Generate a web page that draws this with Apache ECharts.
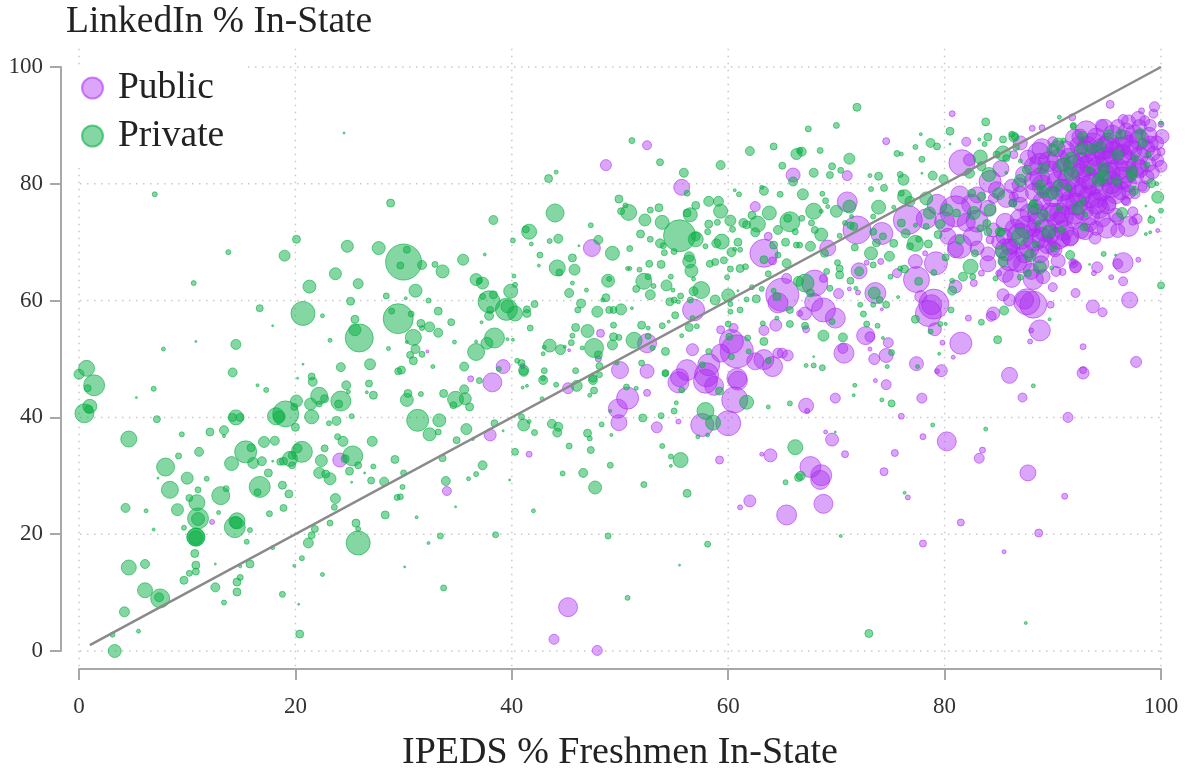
<!DOCTYPE html>
<html><head><meta charset="utf-8">
<style>html,body{margin:0;padding:0;background:#fff}#c{width:1188px;height:771px}</style>
<script src="https://cdn.jsdelivr.net/npm/echarts@6/dist/echarts.min.js"></script>
</head><body><div id="c"></div>
<script>
const xTicks=[0,20,40,60,80,100];
const yTicks=[0,20,40,60,80,100];
const diagonal=[[1,1],[100,100]];
const xTitle='IPEDS % Freshmen In-State';
const yTitle='LinkedIn % In-State';
// each point: [IPEDS %, LinkedIn %, school size]
const publicPoints=[
[12.3,22.1,5],[24.1,32.7,14],[32.2,51.3,3],[39.2,48.7,14],[41,48.8,5],[45.3,51.5,3],[48.2,54.4,8],[48,50,6],[50,48.1,17],[52.5,47.9,14],[52.5,52.7,19],[56.8,58.4,22],[48.7,83.2,11],[52.5,86.6,9],[55.7,79.4,16],[66,81.5,14],[62.5,76.1,10],[47.4,69,17],[63.7,71,8],[63.3,68.1,28],[64.1,66.8,8],[65,61,33],[65.4,63.8,10],[64.6,59.6,20],[66.6,57.8,6],[64.4,55.8,12],[63.3,54.9,10],[60.3,53,24],[60.8,51.3,33],[59.3,55,8],[60.5,55.3,9],[59.3,51,18],[56.7,51.6,12],[62.5,49.6,17],[63.3,49.9,20],[64.1,48.7,20],[64.6,51,10],[65,51,10],[65.5,50.6,11],[58.2,49,22],[56.2,48.1,21],[58,47.3,24],[60.8,46.7,20],[55.5,46.8,18],[41.6,33.7,6],
[38.2,46,19],[36.2,46.6,6],[45.2,45,11],[38,37,12],[34,27.4,9],[52.5,44.2,7],[50.7,43.3,22],[49.8,41.5,19],[49.9,39.1,16],[55.4,39.3,5],[53.4,38.3,11],[55.4,46,21],[57.9,46.2,24],[58.7,45.4,19],[60.9,46.3,19],[60.6,43,26],[60,39,25],[57.6,38.7,23],[63.9,33.5,13],[63.1,33.7,4],[59.2,32.7,8],[62,25.7,12],[61.1,24.6,5],[65.4,23.3,20],[45.2,7.5,19],[43.9,2,10],[47.9,0.1,10],
[74.6,45.6,10],[73.6,46.3,4],[69.9,43.3,10],[77.9,43.3,10],[76,40.2,6],[67.2,42,15],[67.3,41.1,5],[69,37.5,4],[69.6,36.2,13],[70.8,33.7,7],[75.4,33.9,7],[78,36.7,6],[80.2,35.9,19],[83.5,34.4,6],[83.2,33,10],[87.2,43.4,9],[86,47.2,16],[92.8,47.6,12],[92.8,48.1,7],[91.4,40,10],[87.7,30.5,16],[91.1,26.5,6],[74.4,30.7,8],[67.6,31.5,21],[68.6,30.1,21],[68.5,29.3,19],[68.8,25.2,19],[76.6,26.3,5],[81.5,22,7],[78,18.4,7],[88.7,20.2,8],[85.5,17,4],
[80.7,92,6],[74.6,87.3,7],[71,81.4,10],[82,87.2,9],[88.1,89.5,6],[89,89.6,6],[91.8,91.4,7],[95.3,93.6,8],[81.6,83.6,26],[82.3,84.1,12],[86.4,85,8],[84.2,80.4,22],[71,76.9,20],[69.2,69,16],[71.9,72.1,28],[74.2,71.5,22],[76.6,73.8,29],[81,75.3,31],[81.4,78.1,18],[83,78.1,16],[84.5,77.5,10],[85.7,77.5,18],[86.3,76.7,8],[82.6,71,19],[81,68.7,16],[81.4,69.3,24],[79.2,66.4,23],[78.2,68.1,5],[77.3,66.7,14],[75.6,64.7,9],[77.4,63.6,26],[72.1,65.1,16],[74.1,66.7,6],[72.8,66.5,5],[71.2,62,4],[72,61.4,5],[70.2,61.2,10],[68.8,63.8,8],[68,63,26],[73.6,61.3,21],[74.2,58.5,3],[67.9,59.7,18],[68.8,58.4,24],[69.9,57,20],[67.1,57.8,13],[67.2,55.1,7],[72.7,54,18],[73.1,53.8,10],[70.7,51,20],[70.6,51.8,10],[73.5,50,11],[74.6,50.6,14],[74.8,52.8,10],[73.1,51.7,4],[77.4,49.2,14],[79.7,48,12],[79.3,47.9,5],[81.5,52.7,22],[79.8,52.8,5],[80.8,50.3,4],[79,59.4,30],[78.8,59.3,20],[78.5,57.8,26],[77.8,60.7,12],[79.1,55.1,13],[81,62.4,13],[82.2,57,6],[82.7,63,7],[84,66.3,16],[85,64.7,6],[83.4,64.7,6],[85.7,68.7,22],[86.7,66.7,20],[86.2,63.8,18],[88.2,63.6,20],[89.1,64.1,14],[90,62.3,9],[90.9,64.9,7],[87,71,26],[86.3,69.3,14],[91,70.4,14],[90,69,14],[91.6,71,18],[88.2,72.1,14],[87.6,59.8,26],[88.2,59.3,27],[87.4,60.1,18],[85.4,61,12],[86,60.1,12],[84.5,57.8,13],[84.3,57.3,10],[88.8,54.9,21],[88,54.9,5],[87.9,53,5],[92.8,52.1,6],[92.1,61.3,9],[89.8,59.3,7],[93.7,59,13],[94.6,58,9],[97.7,49.5,11],[97.1,60.1,16],[96.5,63.3,9],[96.5,66.5,20],[96,66.3,10],[95.4,64,5],[97.9,67,5],[94.1,65.7,11],[93.8,64.7,5],[92.1,65.7,11],[91.9,66.6,5],[96.8,77,9],[98.3,79.5,9],[99.7,72,4],[84.5,72.1,14],[84.2,70.4,8],[99.4,93.2,10],
[93.1,88.9,22],[94.8,89.5,18],[96,89.8,14],[97,90.6,14],[97.9,91.2,14],[98.2,92.5,6],[99.3,92,9],[100,90.2,6],[100.1,88.1,14],[100,85.5,8],[100,83,12],[98.4,79.5,12],[96.7,77.2,9],[92.4,86.5,18],[93.7,87,20],[95.2,87,20],[96.6,87.6,18],[98,87.5,20],[99,86.8,16],[99.3,85.2,14],[98.8,83.4,16],[97.3,85.8,20],[95.6,85.3,22],[93.9,84.8,20],[92.6,84,16],[91.2,85.8,18],[90,87.2,10],[88.7,85.2,22],[87.7,84.4,16],[89.6,83.8,20],[91,82.5,22],[92.6,81.8,20],[94.2,82.8,22],[96,82.5,22],[97.6,81.6,18],[98.7,81.2,14],[97,80,16],[95.4,80.2,22],[93.7,80,22],[92.2,79.5,20],[90.4,80.4,20],[88.8,81,20],[87.3,81.6,16],[86.9,79.8,14],[88.3,78.6,18],[90,77.8,20],[91.6,77.3,18],[93.4,77.8,22],[94.1,77.5,18],[95.8,78.3,20],[95,76.4,18],[92.8,75.5,20],[91.3,76.4,20],[89.7,75.2,18],[88.4,76,15],[87,76.5,14],[86.4,77.8,9],[87,74,20],[88.6,73.4,20],[90.5,73.4,20],[92,73.6,16],[93.4,73,14],[95,72.4,20],[96,72,14],[97,72.7,20],[97.4,73.6,8],[93.9,70.7,12],[90.5,70.7,22],[91.6,70.7,16],[88.3,70.4,22],[90.2,68.7,14],[86,67,22],[88.8,68,18],[92.1,65.8,12],[91.9,66.4,9],
[89,86,20],[90.5,84,22],[92,87.8,18],[93,85.5,22],[94.6,86,22],[96.2,86.3,20],[97.5,88.5,18],[98.9,88.3,16],[99,90,12],[98,89.8,14],[96.8,89,16],[95.5,88.5,18],[94,88,18],[92,83,22],[93.5,83.3,22],[95,83.8,22],[96.7,84,22],[98,84.8,18],[99.2,82,14],[97.7,83,20],[96.4,81,22],[94.8,81.5,22],[93.2,81,22],[91.5,80.8,22],[89.8,82,22],[88.2,83,18],[87,78.2,16],[89,79.8,20],[90.8,78.9,22],[92.5,78,22],[94.5,79,22],[96.3,78.8,18],[97.6,78.3,10],[94.3,75.8,20],[93.5,74.5,18],[92,74.8,20],[90.2,74.8,22],[88.6,74.8,20],[87.5,72.6,22],[89.3,72,22],[91,72,20],[92.6,72,16],[94.6,74,16],[95.8,74.6,14],[97.8,74,10],[89.5,69.6,18],[87.8,69,20],[86,69.2,16],[85,70,14],[87.2,66.3,18],[88.9,66.3,16],[90.5,66.8,14],[85.6,64.5,16],[83,73.6,22],[85.6,73.4,18],[84,75.8,16],[82.5,76.5,20],[79.3,76.5,20],[78.3,74,20],[83,69,14],[80.3,71,16],[86.2,79.6,14],[85.2,82.6,16],
[92.5,88,16],[94.5,90,12],[96.5,91,10],[98.5,90.8,10],[99.6,87,14],[99.7,84,12],[98.6,86,18],[97,86.6,20],[95,86.2,22],[93.2,86.4,20],[91.6,84.4,20],[93,83,20],[94.8,84.6,20],[96.4,85,20],[98,82.6,18],[96.8,82,22],[95.2,81.8,22],[93,79.4,22],[91.2,79,20],[89.6,78.6,18],[88.2,80.5,18],[95.5,79.4,20],[97,78.6,14],[94,76.7,22],[92.2,76.5,22],[90.6,75,20],[89,77,18],[87.8,75,18],[93,71.8,16],[91,74.4,20],[94,72.4,14],[96,74,12],[89,70.8,20],[86.5,72.2,20],[87.4,68,18],[85.5,71,16],[89.8,71.4,18],[88,65,16],[90.3,65,10],[84,68,14],[82,73.4,18],[80,73.5,20],[84.8,79,16],[87,87,14],[88.8,83.5,20],[90.4,86,16],[97.4,75.2,10],[95.2,76.6,14]
];
const privatePoints=[
[0,47.4,10],[0.7,48.4,16],[1.4,45.5,21],[0.8,45,7],[0.5,40.7,19],[1,41.9,14],[0.9,41.4,8],[4.6,36.3,16],[6.9,44.9,5],[5.3,43.4,2],[7.2,39.7,7],[7.8,51.7,4],[9.5,37.1,5],[12.1,37.5,8],[13.4,37.8,9],[13.4,36.8,3],[14.5,40,15],[14.2,40,8],[14.9,40,8],[14.2,47.7,9],[14.5,52.5,10],[16.5,45.5,3],[17.3,44.7,5],[9.2,33.4,6],[11.1,34.1,9],[8,31.5,18],[7.3,29.6,2],[10,29.6,12],[11.8,29.5,5],[8.4,27.6,17],[11,27.6,6],[10.2,26.2,7],[10.9,25.4,16],[9.1,24.2,12],[11,22.7,21],[11,22.6,13],[9.7,21.1,5],[10.8,19.5,18],[10.8,19.5,18],[10.8,19.4,14],[6.9,20.8,3],[6.2,24,4],[4.3,24.5,9],[10.7,16.7,8],[10.8,14.7,8],[10.8,13.6,7],[10.2,13.3,6],[9.7,12.1,8],[12.6,14.9,2],[6.1,14.9,9],[4.6,14.3,15],[6.1,10.4,15],[7.5,9,19],[7.4,9.2,9],[4.2,6.7,10],[3.1,2.8,5],[5.5,3.4,4],[3.3,0,13],[12.6,10.9,9],[13.4,8.3,5],[14.6,10.1,8],[14.6,11.8,8],[14.9,12.6,6],[14.9,14.5,3],[15.8,14.9,8],[15.8,20.7,5],[15.5,18.7,5],[14.4,21.2,21],[14.6,22.3,16],[14.5,22,12],[13.1,26.6,18],[13.6,27.8,6],[12.9,23.7,4],[14.1,32.1,14],[15.4,34.1,22],[15.9,34.8,8],[16.1,32.2,11],[16.9,32.5,9],[17.1,35.8,11],[18.1,36,9],[16.7,28.1,21],[16.5,27.2,7],[17.5,30.5,8],[18.8,28.4,8],[19.4,26.9,8],[18.9,24.5,7],[17.6,23.5,6],[17.9,17.7,4],[18.8,9.7,6],[19.9,14.6,3],[20.3,8,2],[20.4,2.9,8],[20.6,15.9,5],[21.2,18.5,10],[21.5,19.8,7],[21.8,20.9,7],[23.2,21.9,6],[22.5,13.1,4],[23.6,24.6,6],[23.7,26.1,10],[25.8,18.5,24],[25.6,21.9,8],[25.8,20.9,5],[28.3,23.3,8],[29.4,26.3,6],[28.2,29,9],[27,29.2,7],[26.4,30.5,2],[25.2,28.9,2],[25,30.8,8],[25.8,31.8,7],[25.3,33.4,20],[24.6,32.9,8],[27.2,31.6,5],[29.2,32.8,8],[27.1,35.9,10],[24.4,35.9,10],[23.9,36.7,6],[22.7,34.7,7],[22.4,32.6,12],[22.2,30.5,11],[22.8,30.3,8],[23.2,29.5,12],[20.6,34.1,21],[20.2,34.7,9],[19.5,32.9,15],[18.9,32.5,8],[19.7,33.5,8],[19.7,31.8,7],[18.6,32.4,7],[17.9,32.5,2],[20,38.3,8],[19.1,40.6,26],[18.2,40.2,17],[18.5,40.1,12],[20.1,42.8,12],[19.9,41.8,7],[21.4,42.3,12],[21.5,40.1,14],[22.2,43.7,17],[22.7,43.2,8],[22.2,42.3,6],[21.5,47,7],[21.6,46.1,9],[20.2,46.7,2],[20.7,49.1,2],[23.1,39,5],[23.8,39.4,9],[25.2,40.2,5],[24.2,42.8,20],[24,42.3,8],[24.7,45.5,9],[24.9,44.4,4],[24.2,48.6,9],[26.9,49.1,11],[26.8,45.8,7],[27.2,43.8,8],[26.6,44.3,3],[28.6,51.8,4],[29.5,47.9,7],[25.9,53.6,28],
[7,78.2,5],[24.5,88.7,2],[28.8,76.7,8],[13.8,68.3,5],[20.1,70.5,8],[19,67.7,11],[24.8,69.3,12],[27.7,69,13],[30,66.6,36],[29.7,66,7],[30.3,68.7,7],[10.6,63,5],[23.7,64.6,12],[25.8,62.9,10],[21.3,62.4,13],[28.4,60.8,6],[25.1,59.9,8],[16.7,58.7,7],[20.7,57.8,24],[22.5,57.4,4],[17.9,55.7,2],[25.5,56.8,8],[25.5,55,12],[29.5,56.9,30],[28.9,58.2,6],[23.2,53.2,4],[10.8,53,2],
[31.7,66.1,9],[32.9,66.2,6],[33.6,65,13],[35.5,67,11],[37.5,67.9,3],[38.3,73.8,9],[36.7,63.6,12],[37.3,63,12],[37,63.4,6],[37.9,59.8,22],[37.3,60.7,6],[38.3,61,8],[38,58.4,7],[39.9,61.6,14],[40.3,62.7,5],[40.2,64.2,4],[39.5,58.5,22],[40.3,57.8,15],[39.6,59,13],[41.4,58.5,7],[41.4,57.8,8],[42.1,59.4,7],[37.9,57.4,9],[31.1,61.7,13],[32.3,60,5],[30.2,60.4,3],[30.7,57.7,6],[33.2,58.2,8],[34.4,56.3,7],[31.6,56.1,8],[32.4,55.5,10],[31.7,55.3,5],[33.2,54.5,9],[30.9,53.7,16],[30.3,52.9,3],[31.1,51.7,9],[30.6,50.7,7],[30.9,49.7,8],[31.7,50.8,6],[29.8,48.1,8],[32.7,48.7,4],[34.7,52.9,4],[35.6,48.7,9],[36.7,51.2,17],[38.4,53.6,20],[37.7,52.7,12],[39.6,53.4,3],[36.7,53,3],[37.2,56.3,3],[41.7,55.3,6],[40.1,53.3,3],[38.8,48.3,5],[40.5,49.7,5],[40.9,49.3,7],[41.1,48.1,10],[43.5,52.3,13],[43,52,4],[42.9,50.9,4],[44.5,51.6,10],[44.9,52.1,3],[45.5,52.8,6],[45.6,54,5],[45.9,55.4,8],[47,54.8,13],[46.5,51.9,4],[47.6,51.9,19],[48,50.7,8],[48.1,48.8,7],[45.9,48,6],[43,48,6],[47.5,46.7,8],[42.9,46.7,5],[49.7,49.3,4],[52,49.3,6],[54.2,47.6,7],[49.4,53.8,8],[49.3,52.4,10],[49.9,53.7,6],[49.4,55.8,6],[51.3,53.2,16],[52,55.8,8],[52.6,55.3,4],[52.6,53.9,6],[53,51.9,5],[54.2,51.3,8],[55.7,54,4],[56.4,55.4,8],[57.1,55.6,5],[56.7,57,5],[53.9,55.7,6],[54.5,56.4,3],[55.1,57.5,7],[56.5,60.1,6],[47.9,58.1,11],[46.1,58.4,6],[46.4,59.5,9],[45.3,61.3,9],[49,58.4,7],[49.4,58.4,7],[50.1,58.5,11],[51.1,58.7,3],[48.7,60.5,8],[48.4,60.1,4],[48.9,63.4,13],[49,63.7,5],[46.9,61.8,4],[45.6,63,4],[44.2,65.6,16],[44.4,64.8,7],[45.8,65.3,11],[45.6,67.3,8],[42.6,67.8,6],[42.5,66,3],[41.6,71.8,15],[41.3,72.2,7],[40.1,70.3,5],[41.8,69.7,4],[43.5,70.2,5],[44.3,70.6,9],[44,75,18],[47.3,72.9,5],[46.2,69.4,2],[43.4,80.9,8],[44.1,82,4],[51.1,87.4,6],[53.7,83.7,7],[55.9,81.9,9],[56.2,78.4,6],[59.3,83.2,9],[62,85.6,9],[64.2,86.4,7],[66.3,85.1,11],[66.6,85.7,6],[65,83.1,7],[66,80.4,9],[63.3,78.8,9],[63.1,79.4,4],[64.8,78.2,6],[60.6,78.9,3],[61,78.2,5],[49.9,77.4,8],[50.8,75.1,16],[50.1,75.3,7],[50.5,76.3,5],[52.8,75.5,6],[53.6,75.9,8],[52.3,73.8,12],[53.9,73.4,14],[51.9,71.4,8],[52.8,70.5,6],[48,70.4,9],[49.3,68.1,14],[50.9,68.9,6],[53.7,69.8,9],[54,69.4,6],[54.1,68.2,6],[55,68.4,6],[55.5,71.1,32],[57,70.5,15],[57,71,9],[56.5,74.7,14],[56.2,75,8],[57,76.3,8],[58.2,73.1,8],[59,73.4,6],[58.2,77,10],[59.1,77,10],[59.3,75.3,14],[60.2,73.7,11],[60.4,72.2,6],[57.9,69.3,5],[58.1,71.8,6],[59.4,70.1,15],[58.9,69.8,9],[60.9,70,8],[60.6,68.8,4],[61.1,68.7,5],[60.3,68.3,9],[61.4,73.3,9],[61.7,73,8],[62.2,74.6,8],[62.7,73.1,16],[62.5,71.7,9],[63.8,75,14],[65.7,73.5,20],[65.5,74.1,8],[64.6,72.1,9],[66.2,71.8,6],[65.3,70,8],[64.2,69.5,8],[63.3,67,8],[64.6,67.8,6],[65.4,66.4,9],[66.3,69.5,6],[56.4,67.5,10],[56.4,66.7,13],[56.6,65.1,13],[56.8,63.7,4],[57.5,61.8,17],[56.8,61.6,9],[58.3,66.3,7],[58.8,66.6,7],[59.6,66.9,7],[60.2,65.4,6],[59.9,64,5],[61.1,65.5,8],[61.6,65.8,6],[50.9,65.5,4],[50.7,65.5,4],[52.7,66.3,7],[53.8,66.2,8],[51.8,65.3,5],[52.2,63.3,16],[52.6,64.1,6],[51.5,62,7],[53.1,62.5,5],[52.8,61,10],[54.3,62.6,11],[54.9,61.8,4],[54.7,64.1,5],[55.6,60.8,6],[54.6,59.8,8],[55,60.1,6],[55.4,59.8,4],[58.8,60.1,10],[60,60.9,13],[60.2,59.4,5],[60.2,58.1,5],[61.1,58.4,6],[61.7,60.2,5],[60.9,61.7,2],[62.2,62.3,5],[62.6,60.3,8],[63.1,62,5],[63.7,64.6,6],[64.2,61.7,5],[64.5,60.7,8],[65.7,58.4,7],[66.5,63.3,10],[64.5,57,4],[65.7,56,7],[63.3,53,8],[63.2,56.1,5],[60,56,6],[61.8,53.6,6],[61.9,51.3,5],[60.1,53.8,7],[60.3,50.4,6],[58.2,51.3,6],[63.7,49.7,6],[57.6,49,6],
[30.4,44.1,8],[30.3,43,13],[31.6,44,5],[33.7,44.1,8],[34.8,43.1,16],[34.6,42.1,7],[35.6,44.8,9],[35.7,43.2,12],[36.1,41.8,8],[31.3,39.5,22],[33.3,39.5,13],[32.4,37.1,13],[33.2,37.5,6],[35.8,38,11],[34.9,36.1,7],[36.4,36.3,3],[38.4,39,7],[39.2,37.7,2],[33.6,33,7],[30,30.5,6],[37.3,31.8,9],[36.7,30.3,5],[36,29.5,4],[33.9,29.1,9],[29.9,28.1,5],[29.7,26.4,6],[39.8,29.3,2],[40.3,34.1,7],[34.8,24.7,2],[31.2,22.9,3],[42,24,4],[33.4,19.7,6],[38.5,19.9,6],[32.3,18.5,3],[30.1,14.4,2],[33.7,10.8,6],[48.9,19.7,6],[58.1,18.3,6],[55.5,14.7,2],[50.7,9.1,5],[40.9,40.1,6],[41.1,38.7,12],[41.6,39.3,4],[42.1,37.4,6],[43.7,38.9,9],[44.3,38.4,9],[44.2,37.4,9],[45.3,35.1,6],[47,37.3,8],[47.2,36.4,5],[47.3,34.4,7],[48.3,38.8,5],[49.2,37,3],[46.6,30.5,9],[44.7,30.4,5],[49.1,31.8,6],[47.7,28,13],[52.2,28.5,6],[56.2,27,8],[55.6,32.7,15],[54.7,33.3,5],[54.7,31.7,3],[53.9,35.1,5],[52.1,39.9,8],[53.8,40.3,6],[55,41.1,6],[55.2,42.5,4],[49.1,41.1,3],[50.6,45.2,6],[51.5,45,4],[55.7,44.7,6],[59.2,44.5,8],[61.7,42.6,14],[58.6,39.1,15],[57.9,41.1,17],[63.7,41.8,4],[65.7,42.4,5],[57.2,36.7,4],[58.1,37,4],[66.2,34.9,15],[66.5,29.7,8],[65.3,28.9,5],[41.1,47.8,9],[42.9,46.4,9],[44.1,45.6,5],[46,45.4,11],[47.5,46.4,9],[47.6,44.6,7],[48.1,47.3,6],[47.2,43.8,4],[42.8,43.2,4],[41,45.1,3],[41.4,45.4,3],[54.2,47.5,6],[37,46.3,6],
[71.7,45.5,4],[71.6,43.8,3],[74.2,43,4],[75.1,42.4,7],[69.9,37.5,2],[78.9,38.7,4],[83.8,38,4],[88.2,45.4,4],[76.3,27.1,3],[70.4,19.7,3],[87.5,4.8,3],[73,3,8],[66.7,30,9],
[71.9,93.1,8],[67.4,89.4,6],[70,90,6],[77.8,88.5,3],[68.5,85.7,6],[66.8,85.5,9],[71.2,84.3,11],[69.6,83,7],[67.9,81.9,9],[70.4,82.3,6],[69.4,81.5,7],[73.1,81.4,4],[73.9,81.3,8],[75.9,81.6,6],[76.2,80.7,11],[75.6,85.2,6],[76,85.1,4],[77.3,86.3,5],[78.7,87,9],[79.3,86.4,7],[77.9,84.2,6],[77.9,81.8,2],[78.9,81.4,9],[79.9,80.8,9],[80.5,89,8],[83.8,90.6,8],[80.5,86.8,2],[83.2,87.6,3],[84,88,8],[85.4,87.6,7],[86.2,88.5,6],[86.5,88,7],[83.7,86.8,5],[90.6,91.4,4],[91.9,90,6],[83.3,84.6,14],[82.3,81.8,10],[83.4,83,9],[85.4,85.2,15],[84.8,85,7],[85.7,84.4,7],[84.1,81.6,14],[85.7,81.9,3],[71.2,76.1,13],[66.9,78.2,11],[68.7,78.3,5],[69,77.1,6],[67.9,75.3,16],[70,75.3,12],[69.2,76.1,4],[68.6,75.3,4],[71.4,74.4,4],[73.9,76,14],[73.2,79.1,5],[74.4,79.3,7],[73.4,74.4,5],[75.3,76,4],[66.8,74.1,6],[67.7,73.3,6],[68.6,71.3,13],[68,72.1,7],[67.6,69.3,10],[66.6,69.5,6],[68.9,68.1,8],[70.3,71.1,5],[70.8,73.3,5],[71.3,72.9,7],[71.6,72.7,8],[73.4,71.8,7],[73.7,69.9,8],[71.7,69.1,7],[73.2,68.1,13],[74.9,67.6,10],[75.3,69.8,8],[74.3,71,7],[76.3,77.8,14],[76,78.4,6],[76.8,77,10],[76,73.3,8],[77.3,72.9,4],[78.3,77.5,13],[78.6,75,12],[78.3,72.7,6],[77.6,70.5,6],[76.4,71.5,9],[77.3,69.8,16],[76.8,69.3,7],[78.5,69.7,8],[79.4,71.3,8],[79.6,73.1,9],[80.2,75.5,12],[81.1,75,8],[82.7,75,13],[82.5,78.4,8],[83.4,77.8,9],[85,78.3,12],[84.2,75.5,12],[83.9,73.2,8],[83.3,72.4,7],[85.2,71.7,8],[84,71.8,8],[81.4,70.4,9],[82.8,68.1,7],[80.1,67.4,7],[75.9,65.5,5],[75,64.1,5],[76.3,65.4,8],[77.6,63.3,8],[79,64.8,6],[72.1,65,9],[73.4,66.1,6],[70.3,65.5,7],[70.1,66.5,6],[70.3,64.4,8],[71.3,63.4,7],[71.8,62.1,4],[69.1,65,6],[69.4,62.1,6],[67.1,63,18],[67.6,61.3,8],[73.5,61.3,12],[74,60.1,7],[74.6,59.3,7],[73.4,59.3,5],[75.7,60.6,3],[67.1,55.7,7],[72.2,59.3,5],[72.5,57.7,6],[72.8,56,6],[73.8,55.7,5],[69.6,56.4,6],[68.8,54,11],[70.6,53.7,9],[67.9,50.4,2],[67.2,48.9,4],[67.9,48.9,5],[68.7,48.5,6],[75.1,51.1,6],[74.3,53.6,3],[74.7,48.7,4],[77.5,48.7,4],[79.5,50.9,3],[84.9,53.3,8],[77.3,56.8,8],[78.7,54.7,5],[79.6,56,5],[80.1,56,3],[80.6,58.4,6],[80.7,61.7,9],[80.7,63.4,5],[83.4,56.3,6],[82.4,65.8,15],[81.7,64.1,9],[82.6,64.1,6],[84.7,63.8,5],[85.3,68.4,13],[85.4,66.7,10],[87,64,6],[87.7,64.7,7],[88.8,65.7,13],[89.9,65.6,4],[85.5,58.3,9],[89.7,56.8,3],[93.4,66.2,2],[94.7,68,5],[95.8,67.8,2],[100,62.6,7],[96.4,75,11],[97.5,78.8,9],[99.1,80.1,9],[99.6,80,4],[99.7,77.7,12],[100,75.4,5],[99.1,73.8,7],[99,74.4,2],[98.6,76.2,2],[98.6,71.4,3],[99,71.7,3],[100,90.4,4],
[87,71,17],[87.9,67.7,12],[89.6,71.8,13],[90.8,72.1,7],[88.4,69.6,7],[90.1,68.9,7],[91.6,67.8,9],[85.1,71.8,9],[89.1,74.7,11],[88.2,75.8,12],[90.6,75.8,6],[92.3,75.8,12],[93,74.7,5],[92.9,72.6,8],[86.3,76.7,8],[88.6,73.2,6],[92.7,88.2,9],[95.2,88.4,10],[96.3,88.5,10],[98.1,88.5,11],[98.3,87,9],[92.7,86,12],[93.6,86,10],[94.4,86.4,11],[96,85,11],[97.6,84.4,7],[98.8,85,6],[91,83.2,14],[91.7,84.4,12],[90,85.8,12],[90.5,86.9,11],[91,87.4,5],[91.9,89.8,6],[89.1,82.6,11],[87.6,82.4,9],[87,80.6,12],[88.8,79.8,10],[89.1,78.6,12],[90,78.4,12],[90.5,79.9,9],[91.4,79.3,7],[91.7,81.8,14],[93.4,82.4,7],[94.7,82.6,12],[94.7,81.2,12],[94.2,80.6,12],[95.9,80.4,9],[97.3,82.1,11],[97.3,81.2,9],[98.7,83.2,6],[92.8,77,6],[88.2,76.6,8],[86.4,88,10],[86.6,86.3,7],[87,83.9,4]
];

const purple='rgba(170,40,240,';
const green='rgba(10,175,70,';
const serif='"Liberation Serif", serif';
const series=[];
yTicks.forEach(t=>series.push({type:'line',silent:true,clip:false,symbol:'none',animation:false,z:1,
  data:[[-1.2,t],[101.6,t]],lineStyle:{color:'#c9c9c9',width:1.5,type:[1.5,5.5]}}));
xTicks.forEach(t=>series.push({type:'line',silent:true,clip:false,symbol:'none',animation:false,z:1,
  data:[[t,-2.6],[t,103.4]],lineStyle:{color:'#c9c9c9',width:1.5,type:[1.5,5.5]}}));
series.push({name:'Public',type:'scatter',clip:false,z:2,data:publicPoints,symbolSize:v=>v[2],
  itemStyle:{color:purple+'0.42)',borderColor:purple+'0.55)',borderWidth:1,opacity:1}});
series.push({name:'Private',type:'scatter',clip:false,z:3,data:privatePoints,symbolSize:v=>v[2],
  itemStyle:{color:green+'0.5)',borderColor:green+'0.6)',borderWidth:1,opacity:1}});
series.push({type:'line',silent:true,clip:false,symbol:'none',z:4,data:diagonal,lineStyle:{color:'#8a8a8a',width:2.5}});

const axisCommon={type:'value',min:0,max:100,interval:20,offset:18,
  axisLine:{show:true,onZero:false,lineStyle:{color:'#a8a8a8',width:2}},
  axisTick:{show:true,length:11,lineStyle:{color:'#a8a8a8',width:2}},
  splitLine:{show:false}};
const chart=echarts.init(document.getElementById('c'),null,{renderer:'canvas'});
chart.setOption({
  animation:false,backgroundColor:'#fff',
  title:{text:yTitle,left:66,top:3,padding:0,textStyle:{fontFamily:serif,fontWeight:'normal',fontSize:37.5,color:'#222'}},
  grid:{left:79,right:27,top:67,bottom:120,containLabel:false,outerBoundsMode:'none'},
  xAxis:Object.assign({},axisCommon,{name:xTitle,nameLocation:'middle',nameGap:65,
    nameTextStyle:{fontFamily:serif,fontSize:38,color:'#222'},
    axisLabel:{margin:26,fontFamily:serif,fontSize:23,color:'#333'}}),
  yAxis:Object.assign({},axisCommon,{
    axisLabel:{margin:18,fontFamily:serif,fontSize:23,color:'#333'}}),
  legend:{data:['Public','Private'],orient:'vertical',left:72,top:65,padding:[4,19,13,9],itemGap:10,
    itemWidth:21,itemHeight:21,icon:'circle',backgroundColor:'#fff',
    textStyle:{fontFamily:serif,fontSize:37.5,color:'#222',padding:[0,0,0,10]}},
  series:series
});
</script></body></html>
